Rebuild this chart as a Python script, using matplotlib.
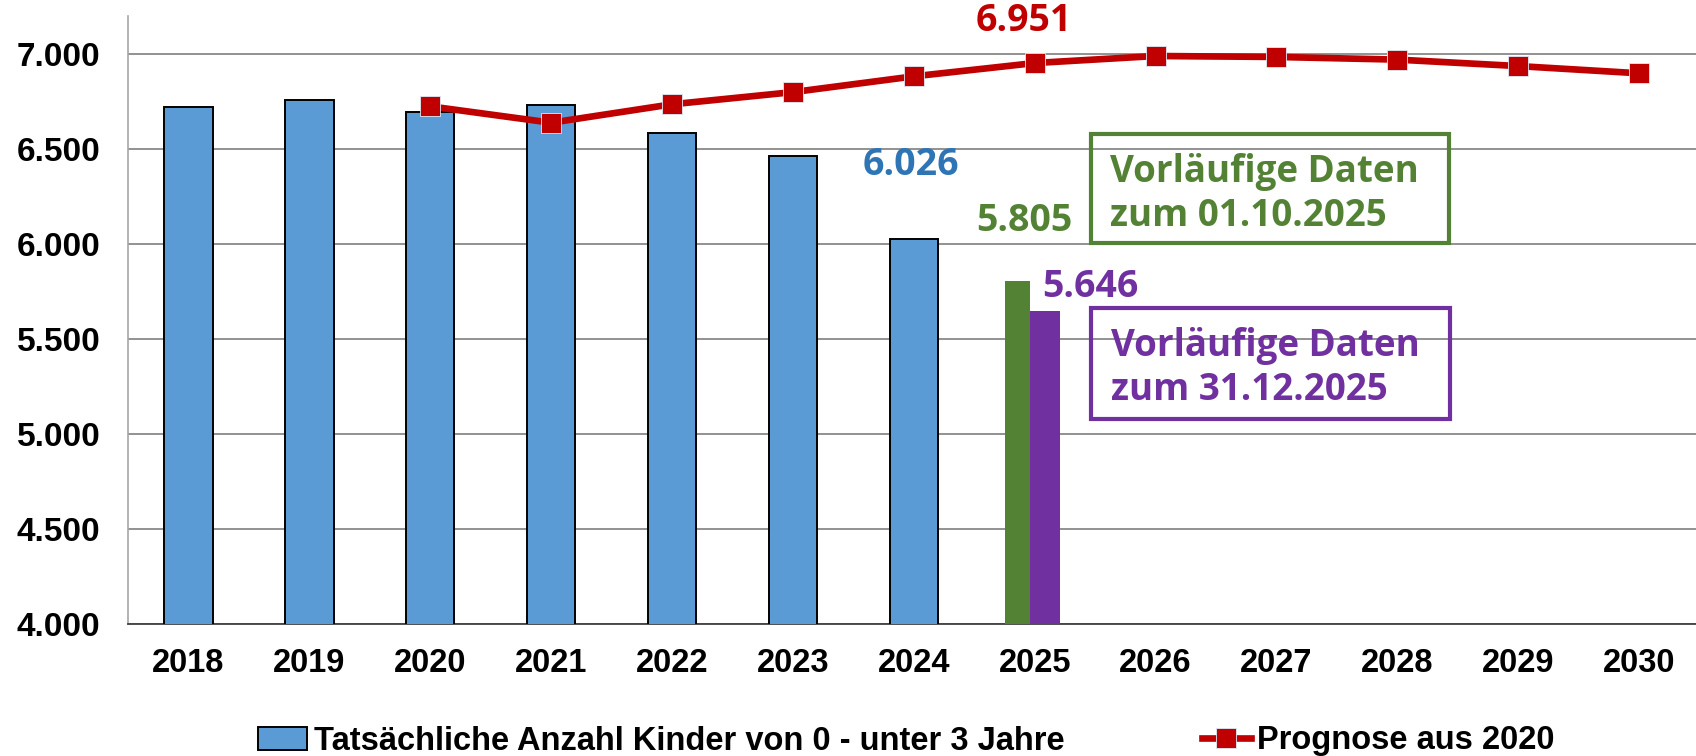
import matplotlib
matplotlib.use("Agg")
import matplotlib.pyplot as plt
from matplotlib.patches import Rectangle
import numpy as np

# Daten
jahre = ["2018", "2019", "2020", "2021", "2022", "2023", "2024",
         "2025", "2026", "2027", "2028", "2029", "2030"]
kinder_ist = [6720, 6757, 6692, 6732, 6585, 6464, 6026]
vorl_okt = 5805
vorl_dez = 5646
prognose_jahre = jahre[2:]
prognose = [6723, 6637, 6734, 6798, 6881, 6951, 6988, 6983, 6969, 6935, 6897]
y_ticks = [4000, 4500, 5000, 5500, 6000, 6500, 7000]
y_labels = ["4.000", "4.500", "5.000", "5.500", "6.000", "6.500", "7.000"]

BLAU = "#5B9BD5"
BLAU_TXT = "#2E75B6"
GRUEN = "#548235"
LILA = "#7030A0"
ROT = "#C00000"
ANNO_FONT = ["Open Sans", "DejaVu Sans"]

fig = plt.figure(figsize=(16.96, 7.56), dpi=100)
ax = fig.add_axes([128 / 1696, 1 - 624 / 756, 1 - 128 / 1696, (624 - 15.7) / 756])

x = np.arange(len(jahre))
balken = ax.bar(x[:len(kinder_ist)], kinder_ist, width=0.4, color=BLAU,
                edgecolor="black", linewidth=1.4, zorder=3)
i25 = jahre.index("2025")
ax.bar(x[i25] - 0.145, vorl_okt, width=0.207, color=GRUEN, zorder=3)
ax.bar(x[i25] + 0.083, vorl_dez, width=0.25, color=LILA, zorder=3)

xp = [jahre.index(j) for j in prognose_jahre]
linie, = ax.plot(xp, prognose, color=ROT, lw=4.8, marker="s", ms=14.5,
                 mec="#DDEBF7", mew=0.6, zorder=5)

ax.set_xlim(-0.5, 12.47)
ax.set_ylim(4000, 7200)
ax.set_yticks(y_ticks)
ax.set_yticklabels(y_labels)
ax.set_xticks(x)
ax.set_xticklabels(jahre)
for lab in ax.get_yticklabels():
    lab.set_fontfamily("Liberation Sans")
    lab.set_fontweight("bold")
    lab.set_fontsize(24)
for lab in ax.get_xticklabels():
    lab.set_fontfamily("Liberation Sans")
    lab.set_fontweight("bold")
    lab.set_fontsize(23.5)
ax.tick_params(axis="y", length=0, pad=20)
ax.tick_params(axis="x", length=0, pad=17)

ax.yaxis.grid(True, color="#7F7F7F", lw=1.2, zorder=0)
ax.set_axisbelow(True)
for s in ["top", "right"]:
    ax.spines[s].set_visible(False)
ax.spines["left"].set_color("#A6A6A6")
ax.spines["left"].set_linewidth(1.2)
ax.spines["bottom"].set_color("#404040")
ax.spines["bottom"].set_linewidth(1.3)

# Wertebeschriftungen
i25p = prognose_jahre.index("2025")
ax.annotate("6.951", (xp[i25p], prognose[i25p]), xytext=(-8, 30),
            textcoords="offset points", ha="center", va="center",
            color=ROT, fontsize=27, fontweight="bold", family=ANNO_FONT)
ax.annotate("6.026", (x[6], kinder_ist[6]), xytext=(-2, 53),
            textcoords="offset points", ha="center", va="center",
            color=BLAU_TXT, fontsize=27, fontweight="bold", family=ANNO_FONT)
ax.annotate("5.805", (x[i25] - 0.145, vorl_okt), xytext=(5, 43),
            textcoords="offset points", ha="center", va="center",
            color=GRUEN, fontsize=27, fontweight="bold", family=ANNO_FONT)
ax.annotate("5.646", (x[i25] + 0.083, vorl_dez), xytext=(33, 17),
            textcoords="offset points", ha="center", va="center",
            color=LILA, fontsize=27, fontweight="bold", family=ANNO_FONT)

# Hinweisboxen
for (x0, y0, w, h, farbe, zeilen, tx, b1, b2) in [
        (1091, 134, 358, 109, GRUEN, ["Vorläufige Daten", "zum 01.10.2025"], 1109.5, 181.7, 226),
        (1090.5, 308, 359.5, 111, LILA, ["Vorläufige Daten", "zum 31.12.2025"], 1111, 355.7, 400)]:
    fig.patches.append(Rectangle((x0 / 1696, 1 - (y0 + h) / 756), w / 1696, h / 756,
                                 transform=fig.transFigure, fill=False,
                                 edgecolor=farbe, lw=3, zorder=6))
    fig.text(tx / 1696, 1 - b1 / 756, zeilen[0], color=farbe, fontsize=26.5,
             fontweight="bold", family=ANNO_FONT, va="baseline", ha="left")
    fig.text(tx / 1696, 1 - b2 / 756, zeilen[1], color=farbe, fontsize=26.5,
             fontweight="bold", family=ANNO_FONT, va="baseline", ha="left")

fig.legend([balken, linie],
           ["Tatsächliche Anzahl Kinder von 0 - unter 3 Jahre", "Prognose aus 2020"],
           loc="center", bbox_to_anchor=(906.5 / 1696, 1 - 741 / 756),
           ncol=2, frameon=False, handlelength=1.5, handletextpad=0.2,
           columnspacing=4.2, borderpad=0,
           prop={"family": "Liberation Sans", "weight": "bold", "size": 23.5})

fig.savefig("out.png", dpi=100)
